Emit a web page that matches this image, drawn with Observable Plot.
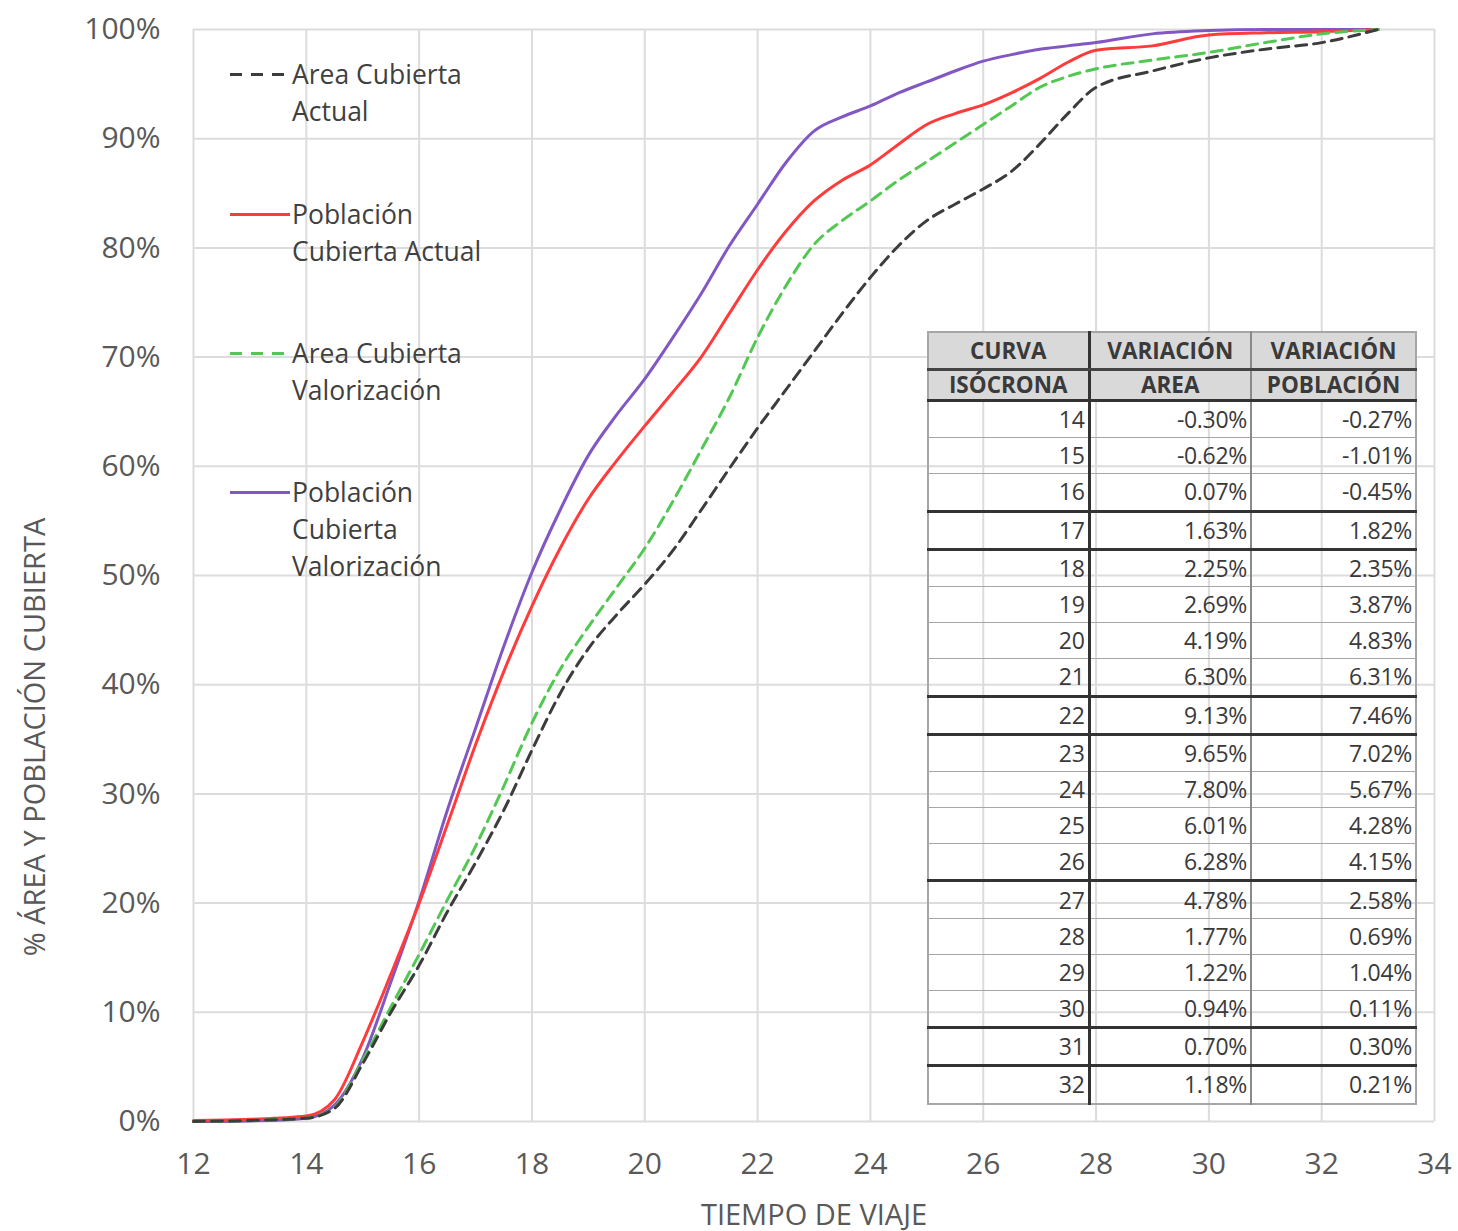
<!DOCTYPE html>
<html>
<head>
<meta charset="utf-8">
<script src="https://cdn.jsdelivr.net/npm/d3@7"></script>
<script src="https://cdn.jsdelivr.net/npm/@observablehq/plot@0.6"></script>
<style>
  body { margin: 0; background: #fff; }
  #wrap { position: relative; width: 1458px; height: 1231px; font-family: "Open Sans", sans-serif; }
  #legend { position: absolute; left: 0; top: 0; }
  .lg-item { position: absolute; left: 230px; }
  .lg-item svg { position: absolute; left: 0; }
  .lg-text { position: absolute; left: 62px; font-size: 26.5px; line-height: 37px; color: #404040; white-space: nowrap; }
  #ytitle { position: absolute; left: 33px; top: 737px; transform: translate(-50%, -50%) rotate(-90deg);
            font-size: 29px; color: #595959; white-space: nowrap; line-height: 1; }
  table.tb { position: absolute; left: 927px; top: 331px; width: 488px; border-collapse: collapse; table-layout: fixed;
             font-family: "Open Sans", sans-serif; font-size: 23px; color: #3a3a3a; border: 2px solid #a6a6a6; }
  table.tb th { background: #d9d9d9; font-weight: 700; text-align: center; padding: 0; line-height: 1; font-size: 22.5px; }
  table.tb td { text-align: right; padding: 0 3px 0 0; line-height: 1; height: 35.2px; border-bottom: 1.5px solid #a6a6a6; letter-spacing: -0.3px; }
  table.tb .c1 { border-right: 3px solid #333; }
  table.tb .c2 { border-right: 2px solid #8a8a8a; }
</style>
</head>
<body>
<div id="wrap"></div>
<script>
// ---------- data ----------
const tiempo = [12, 13, 14, 14.5, 15, 15.5, 16, 16.5, 17, 17.5, 18, 18.5, 19, 19.5, 20, 20.5, 21, 21.5, 22, 22.5,
                23, 23.5, 24, 24.5, 25, 25.5, 26, 26.5, 27, 27.5, 28, 29, 30, 31, 32, 33];
const areaCubiertaActual = [0, 0.1, 0.3, 1.2, 5.3, 10, 14.3, 19.2, 23.7, 28.5, 34, 39.2, 43.3, 46.4, 49.2, 52.3, 56, 59.8, 63.5, 67,
                            70.5, 74, 77.3, 80.2, 82.5, 84, 85.4, 87, 89.5, 92.3, 94.7, 96.2, 97.4, 98.2, 98.8, 100];
const poblacionCubiertaActual = [0.1, 0.2, 0.5, 2, 7.3, 13.5, 20, 27.2, 34.5, 41.2, 47.2, 52.5, 57, 60.5, 63.7, 66.8, 70, 74, 78, 81.5,
                                 84.3, 86.2, 87.6, 89.5, 91.3, 92.3, 93.1, 94.2, 95.5, 97, 98.1, 98.5, 99.5, 99.7, 99.8, 100];
const areaCubiertaValorizacion = [0, 0.1, 0.3, 1.3, 5.6, 10.5, 15.3, 20.3, 25.2, 30.7, 36.5, 41.4, 45.3, 48.9, 52.5, 56.8, 61.5, 66.3, 71.8, 76.5,
                                  80.3, 82.5, 84.3, 86.2, 87.9, 89.6, 91.3, 93, 94.7, 95.7, 96.4, 97.2, 97.9, 98.8, 99.6, 100];
const poblacionCubiertaValorizacion = [0, 0.05, 0.3, 1.5, 5.8, 12.8, 20.2, 28.5, 36, 43.5, 50.3, 56, 61, 64.7, 68, 71.8, 75.8, 80.2, 84, 87.8,
                                       90.7, 92, 93, 94.2, 95.2, 96.2, 97.1, 97.7, 98.2, 98.5, 98.8, 99.6, 99.9, 100, 100, 100];

const serieNombres = ["Area Cubierta Actual", "Población Cubierta Actual", "Area Cubierta Valorización", "Población Cubierta Valorización"];
const leyendaLineas = [["Area Cubierta", "Actual"], ["Población", "Cubierta Actual"], ["Area Cubierta", "Valorización"], ["Población", "Cubierta", "Valorización"]];

const xTicks = [12, 14, 16, 18, 20, 22, 24, 26, 28, 30, 32, 34];
const yTicks = [0, 0.1, 0.2, 0.3, 0.4, 0.5, 0.6, 0.7, 0.8, 0.9, 1];
const xTitulo = "TIEMPO DE VIAJE";
const yTitulo = "% ÁREA Y POBLACIÓN CUBIERTA";

const tablaEncabezado1 = ["CURVA", "VARIACIÓN", "VARIACIÓN"];
const tablaEncabezado2 = ["ISÓCRONA", "AREA", "POBLACIÓN"];
const tablaIsocrona = [14, 15, 16, 17, 18, 19, 20, 21, 22, 23, 24, 25, 26, 27, 28, 29, 30, 31, 32];
const tablaVarArea = ["-0.30%", "-0.62%", "0.07%", "1.63%", "2.25%", "2.69%", "4.19%", "6.30%", "9.13%", "9.65%",
                      "7.80%", "6.01%", "6.28%", "4.78%", "1.77%", "1.22%", "0.94%", "0.70%", "1.18%"];
const tablaVarPoblacion = ["-0.27%", "-1.01%", "-0.45%", "1.82%", "2.35%", "3.87%", "4.83%", "6.31%", "7.46%", "7.02%",
                           "5.67%", "4.28%", "4.15%", "2.58%", "0.69%", "1.04%", "0.11%", "0.30%", "0.21%"];

// ---------- styles ----------
const estilos = [
  {stroke: "#3c3c3c", dash: "11,7"},
  {stroke: "#ff3b3b", dash: null},
  {stroke: "#52c852", dash: "11,7"},
  {stroke: "#8157c4", dash: null}
];
const drawOrder = [3, 1, 2, 0];
const thickAbove = new Set([3, 4, 8, 9, 13, 17, 18]); // row indices with thick top border

// ---------- build rows ----------
const valores = [areaCubiertaActual, poblacionCubiertaActual, areaCubiertaValorizacion, poblacionCubiertaValorizacion];
const rows = [];
valores.forEach((vals, s) => tiempo.forEach((t, i) => rows.push({serie: serieNombres[s], t, v: vals[i] / 100})));

const lineMarks = drawOrder.map(s => Plot.line(rows.filter(d => d.serie === serieNombres[s]), {
  x: "t", y: "v", stroke: estilos[s].stroke, strokeWidth: 3, curve: "monotone-x",
  strokeDasharray: estilos[s].dash || undefined
}));

const chart = Plot.plot({
  width: 1458, height: 1231,
  marginLeft: 193, marginRight: 24, marginTop: 29, marginBottom: 110,
  style: {fontFamily: '"Open Sans", sans-serif', fontSize: "30px", color: "#595959", background: "#fff", overflow: "visible"},
  x: {domain: [12, 34], label: null},
  y: {domain: [0, 1], label: null},
  marks: [
    Plot.gridX(xTicks, {stroke: "#dcdcdc", strokeOpacity: 1, strokeWidth: 2}),
    Plot.gridY(yTicks, {stroke: "#dcdcdc", strokeOpacity: 1, strokeWidth: 2}),
    Plot.axisX(xTicks, {tickSize: 0, tickPadding: 31, label: null, fontSize: 30, fill: "#595959"}),
    Plot.axisY(yTicks, {tickSize: 0, tickPadding: 33, label: null, fontSize: 30, fill: "#595959", tickFormat: d3.format(".0%")}),
    ...lineMarks,
    Plot.text([xTitulo], {text: d => d, frameAnchor: "bottom", dy: 103, fontSize: 29, fill: "#595959"})
  ]
});

const wrap = document.getElementById("wrap");
wrap.appendChild(chart);

// ---------- y title ----------
const yt = document.createElement("div");
yt.id = "ytitle";
yt.textContent = yTitulo;
wrap.appendChild(yt);

// ---------- legend ----------
const legend = document.createElement("div");
legend.id = "legend";
const legendTops = [56, 196, 335, 474];
leyendaLineas.forEach((lines, s) => {
  const item = document.createElement("div");
  item.className = "lg-item";
  item.style.top = legendTops[s] + "px";
  const sw = d3.create("svg").attr("width", 60).attr("height", 37).style("top", "0px");
  sw.append("line").attr("x1", 0).attr("x2", 60).attr("y1", 18.5).attr("y2", 18.5)
    .attr("stroke", estilos[s].stroke).attr("stroke-width", 3)
    .attr("stroke-dasharray", estilos[s].dash ? "12,9" : null);
  item.appendChild(sw.node());
  const tx = document.createElement("div");
  tx.className = "lg-text";
  tx.innerHTML = lines.join("<br>");
  item.appendChild(tx);
  legend.appendChild(item);
});
wrap.appendChild(legend);

// ---------- table ----------
const table = document.createElement("table");
table.className = "tb";
const cg = document.createElement("colgroup");
[161, 162, 165].forEach(w => { const c = document.createElement("col"); c.style.width = w + "px"; cg.appendChild(c); });
table.appendChild(cg);
[tablaEncabezado1, tablaEncabezado2].forEach((hdr, r) => {
  const tr = document.createElement("tr");
  hdr.forEach((h, c) => {
    const th = document.createElement("th");
    th.textContent = h;
    th.className = c === 0 ? "c1" : (c === 1 ? "c2" : "");
    th.style.height = (r === 0 ? 33 : 28) + "px";
    th.style.borderBottom = r === 0 ? "3px solid #444" : "3px solid #333";
    th.style.paddingTop = r === 0 ? "2px" : "0";
    tr.appendChild(th);
  });
  table.appendChild(tr);
});
tablaIsocrona.forEach((iso, i) => {
  const tr = document.createElement("tr");
  [String(iso), tablaVarArea[i], tablaVarPoblacion[i]].forEach((v, c) => {
    const td = document.createElement("td");
    td.textContent = v;
    td.className = c === 0 ? "c1" : (c === 1 ? "c2" : "");
    if (thickAbove.has(i)) td.style.borderTop = "3px solid #333";
    tr.appendChild(td);
  });
  table.appendChild(tr);
});
wrap.appendChild(table);
</script>
</body>
</html>
